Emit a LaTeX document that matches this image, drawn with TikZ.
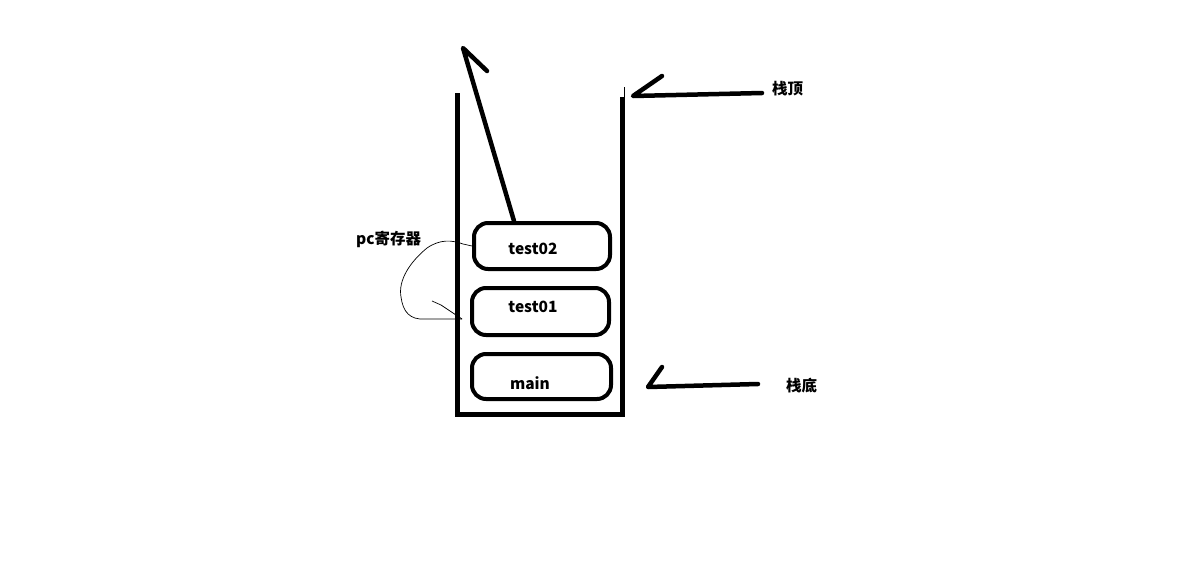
\documentclass[tikz,border=0pt]{standalone}
\usepackage{fontspec}
\setmainfont{Noto Sans CJK SC}
\begin{document}
\begin{tikzpicture}[x=1pt,y=-1pt,
  frame/.style={draw, line width=4pt, rounded corners=14pt, minimum width=136pt, minimum height=46pt, anchor=north west, inner sep=0pt},
  lbl/.style={font=\fontsize{15.5}{18}\selectfont\bfseries, inner sep=0pt},
  thick stroke/.style={line width=4.5pt, line cap=round, line join=round},
  thin stroke/.style={line width=0.7pt}]
\useasboundingbox[fill=white] (0,0) rectangle (1202,570);
% container
\draw[line width=5pt] (457,93) -- (457,414) -- (622,414) -- (622,97);
\draw[line width=1pt] (624,87) -- (624,97);
% frames
\node[frame] (f2) at (472,221) {};
\node[frame, minimum width=137pt, minimum height=47pt] (f1) at (470,286) {};
\node[frame, minimum width=139pt, minimum height=45pt] (f0) at (470,352) {};
\node[lbl] (t2) at (533,249) {test02};
\node[lbl] (t1) at (533,307) {test01};
\node[lbl] (t0) at (530,383) {main};
% return arrow
\coordinate (up) at (463,48);
\coordinate (upb) at (487,71);
\coordinate (s2) at (f2.north west -| 514,0);
\draw[thick stroke] (s2) -- (up) -- (upb);
% labels
\node[lbl, anchor=west] (top) at (772,89) {栈顶};
\node[lbl, anchor=west] (bot) at (786,386) {栈底};
\coordinate (topa) at (633,96);
\coordinate (topb) at (662,76);
\coordinate (bota) at (648,387);
\coordinate (botb) at (662,367);
\draw[thick stroke] (top.west) ++(-10,4) -- (topa) -- (topb);
\draw[thick stroke] (bot.west) ++(-28,-2) -- (bota) -- (botb);
% pc register
\node[lbl, anchor=west] (pc) at (356,239) {pc寄存器};
\coordinate (pcend) at (462,319);
\draw[thin stroke] (f2.west) -- (463,244) .. controls (452,240) and (440,239) .. (427,248)
  .. controls (410,262) and (398,280) .. (401,297)
  .. controls (403,312) and (410,320) .. (425,319) -- (pcend);
\draw[thin stroke] (432,301) -- (441,305) -- (pcend);
\end{tikzpicture}
\end{document}
